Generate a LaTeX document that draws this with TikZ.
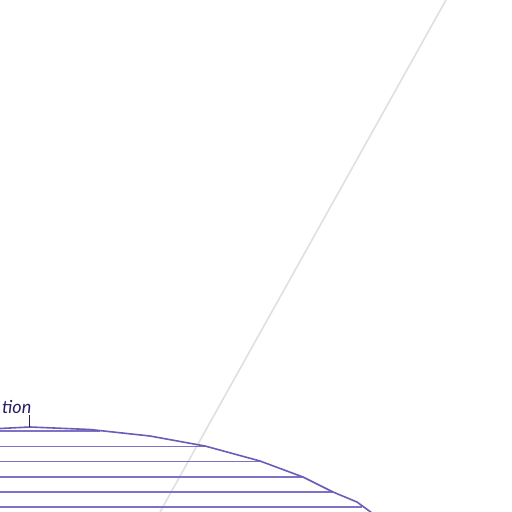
\documentclass[tikz,border=0pt]{standalone}
\usepackage{fontspec}
\setmainfont{Lato}
\definecolor{hatch}{RGB}{128,112,200}
\definecolor{edge}{RGB}{104,94,184}
\definecolor{navy}{RGB}{40,30,100}
\definecolor{guide}{RGB}{224,224,224}
\tikzset{
  hatchline/.style={draw=hatch, line width=1.6pt},
  edgeline/.style={draw=edge, line width=1.6pt, line join=round},
  guideline/.style={draw=guide, line width=1.6pt},
  label/.style={text=navy, font=\fontsize{18}{20}\selectfont\itshape, inner sep=0pt, anchor=base east}
}
\begin{document}
\begin{tikzpicture}[x=1pt,y=-1pt]
\useasboundingbox (0,0) rectangle (512,512);
\fill[white] (0,0) rectangle (512,512);
% guide line
\coordinate (g1) at (446,0);
\coordinate (g2) at (160,512);
\draw[guideline] (g1) -- (g2);
% hatch lines
\foreach \y/\xe in {431/100, 446.5/206, 461.5/260, 477/303, 492/333, 507/362} {
  \draw[hatchline] (0,\y) -- (\xe,\y);
}
% outline curve
\draw[edgeline] (0,428.5) -- (30,427) -- (90,429.5) -- (150,436) -- (205,446) -- (260,461) -- (303,477) -- (333,492) -- (357,502) -- (372,513);
% tick and label
\coordinate (t1) at (29.5,415);
\coordinate (t2) at (29.5,427);
\draw[draw=navy, line width=1.6pt] (t1) -- (t2);
\node[label] (lab) at (31.5,413) {tion};
\end{tikzpicture}
\end{document}
